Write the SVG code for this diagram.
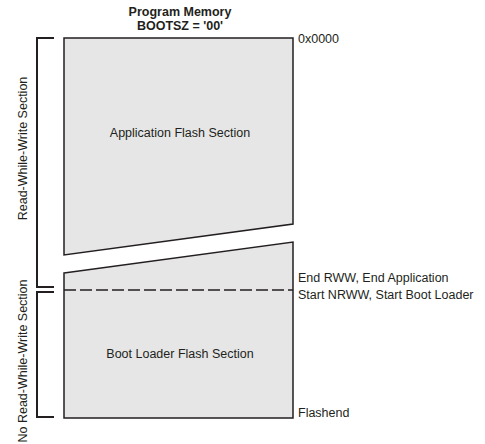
<svg xmlns="http://www.w3.org/2000/svg" width="485" height="444" viewBox="0 0 485 444">
<style>
text{font-family:"Liberation Sans",Arial,sans-serif;font-size:12.5px;fill:#231f20}
.b{font-weight:bold}
.sec{fill:#e6e6e6;stroke:#231f20;stroke-width:1.5}
.br{fill:none;stroke:#231f20;stroke-width:2}
</style>
<rect width="485" height="444" fill="#fff"/>
<g id="title">
<text class="b" x="180" y="16" text-anchor="middle">Program Memory</text>
<text class="b" x="180" y="30" text-anchor="middle">BOOTSZ = '00'</text>
</g>
<g id="app">
<polygon class="sec" points="64,38 293,38 293,224 64,255"/>
<text x="180" y="137" text-anchor="middle">Application Flash Section</text>
</g>
<g id="boot">
<polygon class="sec" points="64,273 293,242 293,418 64,418"/>
<line x1="64" y1="290" x2="293" y2="290" stroke="#231f20" stroke-width="1.5" stroke-dasharray="12,4"/>
<text x="180" y="358" text-anchor="middle">Boot Loader Flash Section</text>
</g>
<g id="rww">
<path class="br" d="M54,38H37V287H54"/>
<text transform="translate(27,148.5) rotate(-90)" text-anchor="middle">Read-While-Write Section</text>
</g>
<g id="nrww">
<path class="br" d="M54,292H37V417H54"/>
<text transform="translate(27,361) rotate(-90)" text-anchor="middle">No Read-While-Write Section</text>
</g>
<g id="labels">
<text x="298" y="43">0x0000</text>
<text x="298" y="282">End RWW, End Application</text>
<text x="298" y="299">Start NRWW, Start Boot Loader</text>
<text x="298" y="417">Flashend</text>
</g>
</svg>
